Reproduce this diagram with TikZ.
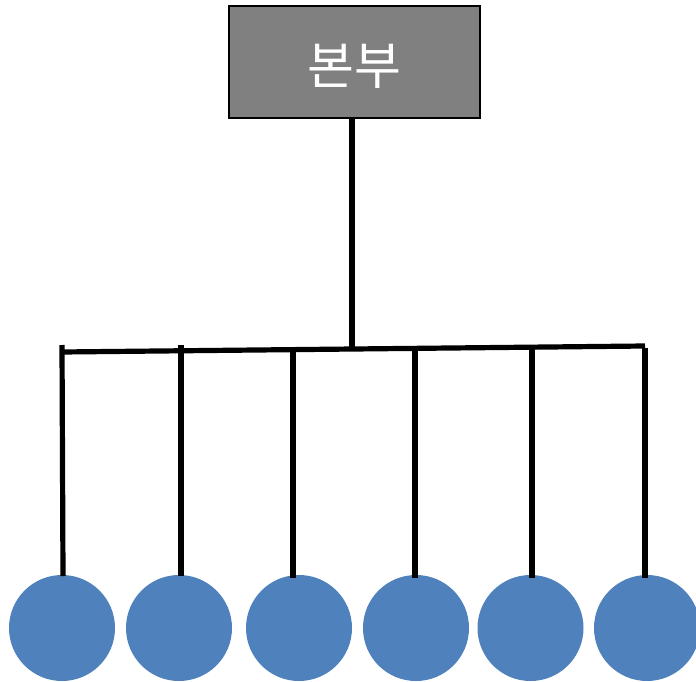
\documentclass[tikz,border=0pt]{standalone}
\usepackage{fontspec}
\newfontfamily\krfont{Noto Sans CJK KR}
\definecolor{boxgray}{HTML}{808080}
\definecolor{dotblue}{HTML}{4F81BD}
\begin{document}
\begin{tikzpicture}[x=1pt,y=-1pt,
  hq/.style={draw=black,line width=1.2pt,fill=boxgray,minimum width=251pt,minimum height=112pt,inner sep=0pt,text=white},
  hqtext/.style={text=white,inner sep=0pt,font=\krfont\fontsize{51}{54}\selectfont},
  dot/.style={circle,fill=dotblue,minimum size=106pt,inner sep=0pt},
  bar/.style={line width=5.2pt,black}]
\useasboundingbox (0,0) rectangle (696,682);
\node[hq] (hq) at (354.5,62) {};
\node[hqtext] (hqlabel) at (354,66) {본부};
\foreach \i/\x in {1/62,2/179,3/299,4/416,5/530.5,6/647}{
  \node[dot] (c\i) at (\x,628) {};
}
\coordinate (L) at (62,352);
\coordinate (R) at (645,346);
\coordinate (J) at (352,347.5);
\coordinate (t1) at (62,345);
\coordinate (t2) at (181,345);
\coordinate (t3) at (293,350.5);
\coordinate (t4) at (415,349);
\coordinate (t5) at (532,347.5);
\coordinate (b1) at (63,576);
\coordinate (b2) at (181,576);
\coordinate (b3) at (293,578);
\coordinate (b4) at (415,578);
\coordinate (b5) at (532,578);
\coordinate (b6) at (645,578);
\draw[bar] (hq.south -| J) -- (J);
\draw[bar] (L) -- (R);
\draw[bar] (t1) -- (b1);
\draw[bar] (t2) -- (b2);
\draw[bar] (t3) -- (b3);
\draw[bar] (t4) -- (b4);
\draw[bar] (t5) -- (b5);
\draw[bar] ([yshift=-1.5pt]R) -- (b6);
\end{tikzpicture}
\end{document}
